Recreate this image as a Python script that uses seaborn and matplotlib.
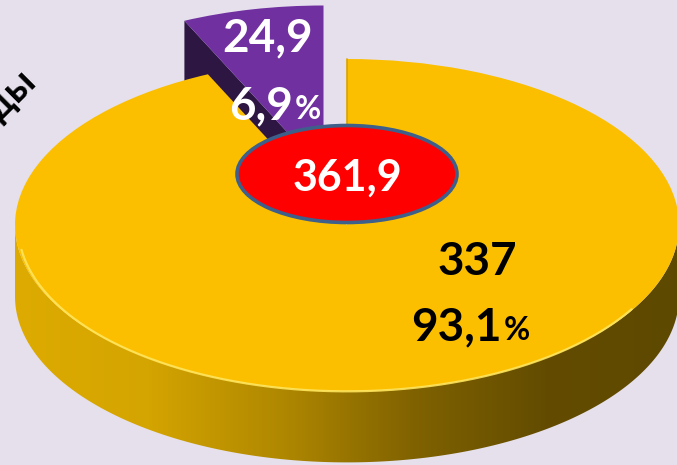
import numpy as np
import matplotlib
matplotlib.use("Agg")
import matplotlib.pyplot as plt
import seaborn as sns
from matplotlib.patches import Polygon, Ellipse
from matplotlib.colors import LinearSegmentedColormap

# data
categories = ['Прочие', 'Налоговые доходы']
values = [24.9, 337.0]
value_labels = ['24,9', '337']
share_labels = ['6,9', '93,1']
total_label = '361,9'

bg = '#E5E0EC'
purple = '#7030A0'
purple_dark = '#2D1641'
yellow = '#FBBF00'
side_cmap = LinearSegmentedColormap.from_list(
    'side', ['#DDAB00', '#D4A400', '#B08800', '#806200', '#634C00', '#5E4900'])

sns.set_theme(style='white')
plt.rcParams['font.family'] = ['Lato', 'DejaVu Sans']

# pixel layout of the pie (centre, radii) used to map text positions
CX, CY, RX, RY = 347, 225, 332, 166

fig = plt.figure(figsize=(6.77, 4.65), dpi=100, facecolor=bg)
ax = fig.add_axes([0, 0, 1, 1])
ax.set_facecolor(bg)

wedges, _ = ax.pie(values, explode=[0.33, 0], startangle=90, counterclock=True,
                   colors=[purple, yellow], radius=1,
                   wedgeprops=dict(linewidth=0))
depth = 0.43

# purple slice: visible cut face below its top
pw = wedges[0]
pcx, pcy = pw.center
t2 = np.deg2rad(pw.theta2)
ox, oy = pcx + pw.r * np.cos(t2), pcy + pw.r * np.sin(t2)
ax.add_patch(Polygon([(pcx, pcy), (ox, oy), (ox, oy - depth), (pcx, pcy - depth)],
                     closed=True, facecolor=purple_dark, edgecolor='none', zorder=1))
pw.set_zorder(2)

# yellow slice: side band with gradient
yw = wedges[1]
ycx, ycy = yw.center
th = np.linspace(np.pi, 2 * np.pi, 300)
top = np.column_stack([ycx + yw.r * np.cos(th), ycy + yw.r * np.sin(th)])
bot = top[::-1] - [0, depth]
band = Polygon(np.vstack([top, bot]), closed=True, facecolor='none',
               edgecolor='none', zorder=3)
ax.add_patch(band)
grad = np.linspace(0, 1, 256).reshape(1, -1)
im = ax.imshow(grad, cmap=side_cmap,
               extent=[ycx - yw.r, ycx + yw.r, ycy - yw.r - depth - 0.02, ycy + 0.01],
               aspect='auto', zorder=3)
im.set_clip_path(band)
yw.set_zorder(4)

# rim highlight
th2 = np.linspace(np.deg2rad(188), np.deg2rad(330), 200)
ax.plot(ycx + 0.99 * yw.r * np.cos(th2), ycy + 0.99 * yw.r * np.sin(th2) - 0.012,
        color='#FFE55C', lw=1.6, alpha=0.9, zorder=5, solid_capstyle='round')
ax.plot([ycx, ycx], [ycy + 0.3, ycy + yw.r], color='#D9A300', lw=1.2, zorder=5)


def px(x, y):
    return (x - CX) / RX, (CY - y) / RY


# centre total
ex, ey = px(347, 174)
ax.add_patch(Ellipse((ex, ey), 220 / RX, 97 / RY, facecolor='#FF0000',
                     edgecolor='#3E5F8A', lw=2.6, zorder=6))
tx, ty = px(347, 191)
ax.text(tx, ty, total_label, ha='center', va='baseline', fontsize=31,
        fontweight='bold', color='white', zorder=7)


def label(x, y, num, pct, color):
    xd, yd = px(x, y)
    ax.text(xd, yd, num, ha='right' if pct else 'center', va='baseline',
            fontsize=33, fontweight='bold', color=color, zorder=7)
    if pct:
        ax.text(xd + 0.004, yd, '%', ha='left', va='baseline', fontsize=23,
                fontweight='bold', color=color, zorder=7)


label(268, 51, value_labels[0], False, 'white')
label(293, 119, share_labels[0], True, 'white')
label(477, 275, value_labels[1], False, 'black')
label(502, 340, share_labels[1], True, 'black')

xd, yd = px(38, 84)
ax.text(xd, yd, categories[1], ha='right', va='baseline', rotation=45,
        rotation_mode='anchor', fontsize=28, fontweight='bold', color='black', zorder=7)

ax.set_xlim(-CX / RX, (677 - CX) / RX)
ax.set_ylim((CY - 465) / RY, CY / RY)
ax.set_aspect('auto')
ax.axis('off')

fig.savefig('out.png', dpi=100, facecolor=bg)
